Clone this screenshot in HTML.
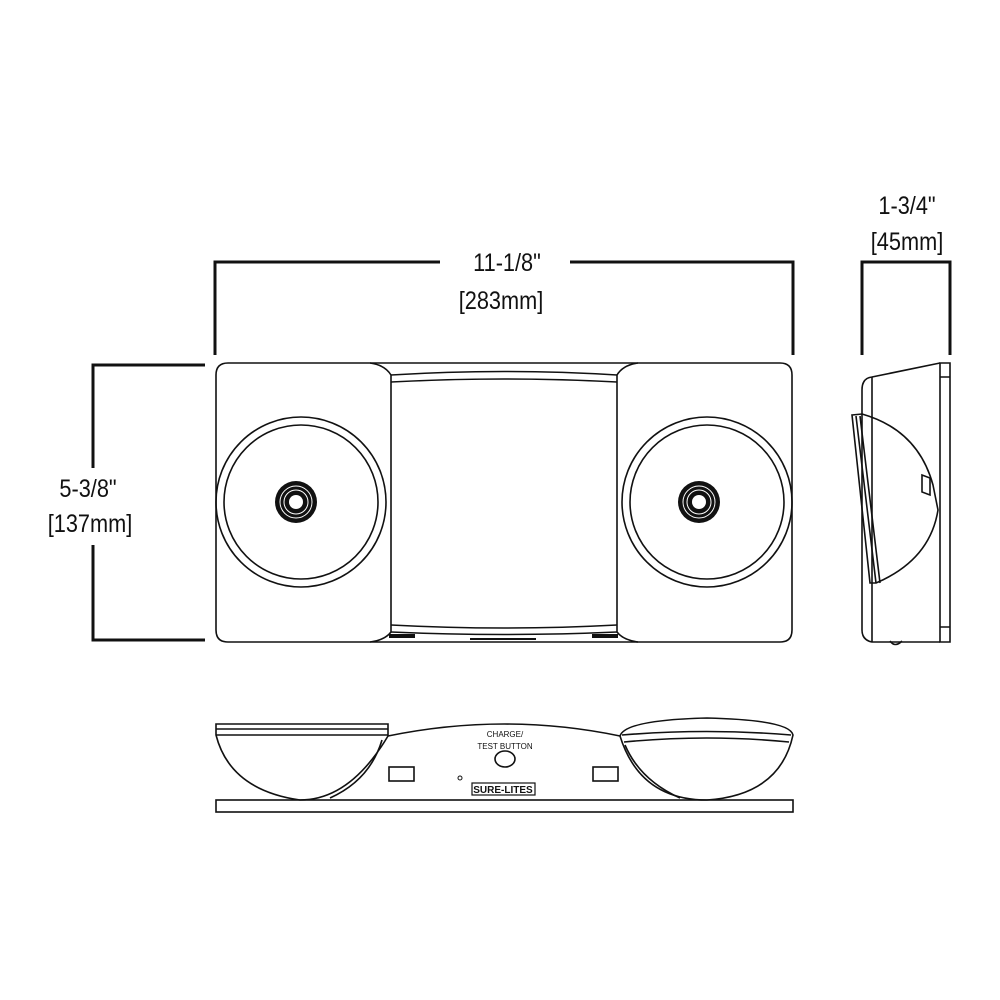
<!DOCTYPE html>
<html><head><style>
html,body{margin:0;padding:0;background:#fff;width:1000px;height:1000px;overflow:hidden}
svg{display:block}
text{font-family:"Liberation Sans",sans-serif;fill:#111}
</style></head><body>
<svg width="1000" height="1000" viewBox="0 0 1000 1000" fill="none" stroke="#111" stroke-width="1.6">
<!-- dimension lines -->
<g stroke-width="3">
<path d="M215 355V262H440M570 262H793V355"/>
<path d="M205 365H93V468M93 545V640H205"/>
<path d="M862 355V262H950V355"/>
</g>
<g font-size="25" text-anchor="middle" stroke="none">
<text transform="translate(507 271) scale(0.87 1)">11-1/8"</text>
<text transform="translate(501 309) scale(0.87 1)">[283mm]</text>
<text transform="translate(88 497) scale(0.87 1)">5-3/8"</text>
<text transform="translate(90 532) scale(0.87 1)">[137mm]</text>
<text transform="translate(907 214) scale(0.87 1)">1-3/4"</text>
<text transform="translate(907 250) scale(0.87 1)">[45mm]</text>
</g>
<!-- front view -->
<path d="M228 363H370Q385 365 391 375V632Q385 640 370 642H228Q216 642 216 630V375Q216 363 228 363Z"/>
<path d="M780 363H638Q623 365 617 375V632Q623 640 638 642H780Q792 642 792 630V375Q792 363 780 363Z"/>
<path d="M370 363H638M370 642H638"/>
<path d="M391 375Q504 368 617 375M391 382Q504 376 617 382M391 625Q504 631 617 625M391 632Q504 637 617 632"/>
<circle cx="301" cy="502" r="85"/><circle cx="301" cy="502" r="77"/>
<circle cx="707" cy="502" r="85"/><circle cx="707" cy="502" r="77"/>
<g stroke="none" fill="#111"><circle cx="296" cy="502" r="21"/><circle cx="699" cy="502" r="21"/>
<rect x="389" y="634" width="26" height="4"/><rect x="592" y="634" width="26" height="4"/>
<rect x="470" y="638" width="66" height="2"/></g>
<g stroke="#fff" stroke-width="1"><circle cx="296" cy="502" r="16"/><circle cx="296" cy="502" r="12"/><circle cx="699" cy="502" r="16"/><circle cx="699" cy="502" r="12"/></g>
<g stroke="none" fill="#fff"><circle cx="296" cy="502" r="7"/><circle cx="699" cy="502" r="7"/></g>
<!-- side view -->
<path d="M940 363V642H950V363Z"/><path d="M940 377H950M940 627H950"/>
<path d="M940 363L872 377Q862 378 862 390V630Q862 640 872 642L940 642"/>
<path d="M872 377V642"/>
<path d="M852 415L862 414Q918 430 933 485L938 510Q930 560 876 583L870 583Z"/>
<path d="M856 416L876 583M860 416L880 583"/>
<path d="M922 475L930 478V495L922 492Z"/>
<path d="M890 641Q895 648 902 641"/>
<!-- bottom view -->
<rect x="216" y="800" width="577" height="12"/>
<path d="M216 724H388V736Q350 800 300 800Q230 790 216 735Z"/>
<path d="M216 729H388M216 735H388"/>
<path d="M388 736Q505 712 620 736"/>
<path d="M620 736Q625 720 707 718Q790 720 793 735Q780 795 707 800Q640 800 620 736Z"/>
<path d="M622 735Q707 728 791 735M624 742Q707 734 789 742"/>
<path d="M382 740Q370 780 330 798M625 745Q640 780 680 798"/>
<rect x="389" y="767" width="25" height="14"/><rect x="593" y="767" width="25" height="14"/>
<ellipse cx="505" cy="759" rx="10" ry="8"/>
<rect x="472" y="783" width="63" height="12" stroke-width="1.2"/>
<circle cx="460" cy="778" r="2" stroke-width="1"/>
<g stroke="none" text-anchor="middle">
<text x="505" y="737" font-size="8">CHARGE/</text>
<text x="505" y="749" font-size="8">TEST BUTTON</text>
<text x="503" y="793" font-size="10" font-weight="bold">SURE-LITES</text>
</g>
</svg>
</body></html>
